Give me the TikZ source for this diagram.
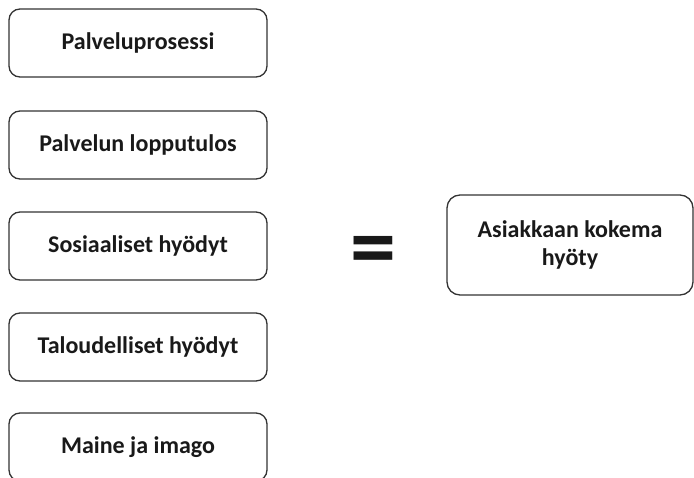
\documentclass[tikz,border=0pt]{standalone}
\usepackage{fontspec}
\setmainfont{Carlito}
\begin{document}
\begin{tikzpicture}[x=1pt,y=-1pt,
  box/.style={draw=black!80, line width=1.3pt, rounded corners=11pt, fill=white,
    font=\bfseries\fontsize{24}{28}\selectfont, text=black!90, align=center, inner sep=0pt},
  leftbox/.style={box, minimum width=258pt, minimum height=68pt}]
\useasboundingbox (0,0) rectangle (694,477);
\clip (0,0) rectangle (694,477);
\fill[white] (0,0) rectangle (694,477);
\node[leftbox] (b1) at (138,43) {Palveluprosessi};
\node[leftbox] (b2) at (138,145) {Palvelun lopputulos};
\node[leftbox] (b3) at (138,246) {Sosiaaliset hyödyt};
\node[leftbox] (b4) at (138,347) {Taloudelliset hyödyt};
\node[leftbox] (b5) at (138,447) {Maine ja imago};
\node[box, minimum width=246pt, minimum height=100pt, rounded corners=13pt] (r) at (570,245) {Asiakkaan kokema\\hyöty};
\node[font=\bfseries\fontsize{92}{92}\selectfont, inner sep=0pt, text=black!90] (eq) at (373,257) {=};
\end{tikzpicture}
\end{document}
